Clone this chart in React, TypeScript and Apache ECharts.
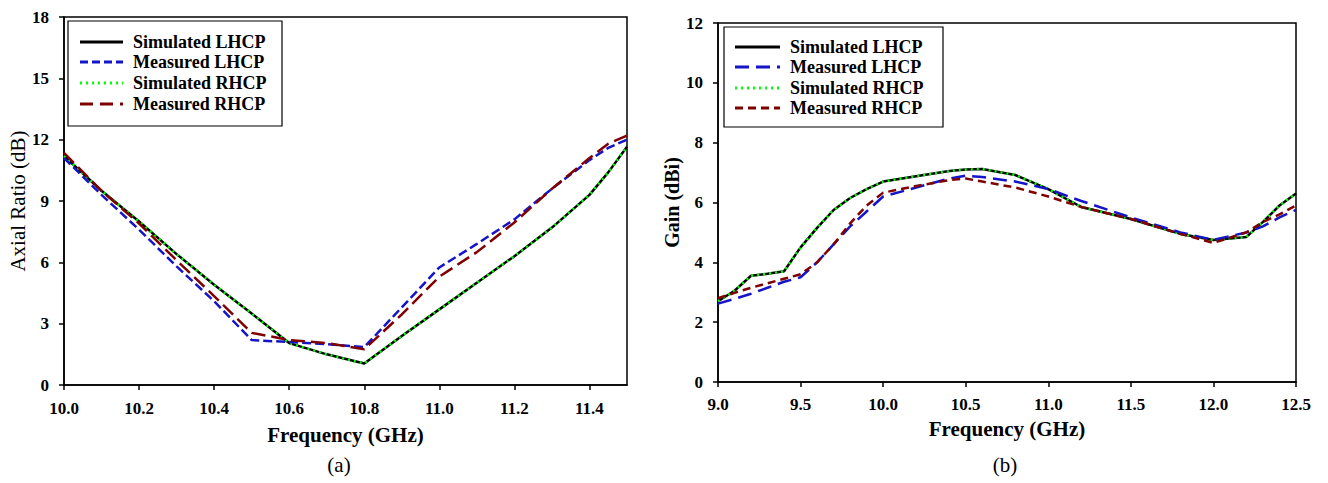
import React, { useEffect, useRef } from "react";
import * as echarts from "echarts";

// ---- (a) Axial ratio ----
const freqA = [10.0, 10.1, 10.2, 10.3, 10.4, 10.5, 10.6, 10.7, 10.8, 10.9, 11.0, 11.1, 11.2, 11.3, 11.4, 11.45, 11.5];
const simLhcpA = [11.2, 9.5, 8.0, 6.4, 4.9, 3.5, 2.05, 1.5, 1.05, 2.4, 3.7, 5.0, 6.3, 7.7, 9.3, 10.4, 11.65];
const simRhcpA = [11.2, 9.5, 8.0, 6.4, 4.9, 3.5, 2.05, 1.5, 1.05, 2.4, 3.7, 5.0, 6.3, 7.7, 9.3, 10.4, 11.65];
const measLhcpA = [11.1, 9.3, 7.6, 5.8, 4.1, 2.2, 2.1, 2.0, 1.85, 3.8, 5.75, 6.9, 8.1, 9.6, 11.0, 11.6, 12.0];
const measRhcpA = [11.35, 9.5, 7.9, 6.1, 4.35, 2.55, 2.2, 2.05, 1.75, 3.45, 5.3, 6.5, 7.95, 9.6, 11.1, 11.8, 12.2];

// ---- (b) Gain ----
const freqB = [9.0, 9.1, 9.2, 9.3, 9.4, 9.5, 9.6, 9.7, 9.8, 9.9, 10.0, 10.2, 10.4, 10.5, 10.6, 10.8, 11.0, 11.2, 11.5, 11.8, 12.0, 12.2, 12.3, 12.4, 12.5];
const simLhcpB = [2.7, 3.05, 3.55, 3.62, 3.7, 4.5, 5.15, 5.75, 6.15, 6.45, 6.7, 6.88, 7.05, 7.1, 7.12, 6.92, 6.45, 5.85, 5.45, 4.95, 4.75, 4.85, 5.35, 5.9, 6.3];
const simRhcpB = [2.7, 3.05, 3.55, 3.62, 3.7, 4.5, 5.15, 5.75, 6.15, 6.45, 6.7, 6.88, 7.05, 7.1, 7.12, 6.92, 6.45, 5.85, 5.45, 4.95, 4.75, 4.85, 5.35, 5.9, 6.3];
const measLhcpB = [2.62, 2.78, 2.95, 3.15, 3.35, 3.5, 4.0, 4.6, 5.2, 5.7, 6.2, 6.5, 6.8, 6.9, 6.85, 6.7, 6.45, 6.05, 5.5, 5.0, 4.75, 5.0, 5.2, 5.5, 5.75];
const measRhcpB = [2.8, 2.98, 3.15, 3.3, 3.45, 3.6, 4.0, 4.6, 5.3, 5.9, 6.33, 6.55, 6.75, 6.8, 6.7, 6.5, 6.2, 5.85, 5.45, 4.95, 4.65, 5.0, 5.35, 5.6, 5.9];

const legendNames = ["Simulated LHCP", "Measured LHCP", "Simulated RHCP", "Measured RHCP"];
const xTicksA = { min: 10.0, max: 11.5, interval: 0.2 };
const yTicksA = { min: 0, max: 18, interval: 3 };
const xTicksB = { min: 9.0, max: 12.5, interval: 0.5 };
const yTicksB = { min: 0, max: 12, interval: 2 };

const FONT = "'Liberation Serif', 'Times New Roman', serif";
const BLACK = "#000000";
const BLUE = "#1414c8";
const GREEN = "#00ff00";
const RED = "#800000";

const pairs = (xs: number[], ys: number[]) => xs.map((x, i) => [x, ys[i]]);

export default function App() {
  const ref = useRef<HTMLDivElement>(null);
  useEffect(() => {
    document.body.style.margin = "0";
    if (!ref.current) return;
    const chart = echarts.init(ref.current, undefined, { renderer: "svg" });

    const axisCommon = {
      axisLine: { show: true, lineStyle: { color: BLACK, width: 1.5 } },
      axisTick: { show: true, inside: false, length: 5, lineStyle: { color: BLACK, width: 1.5 } },
      splitLine: { show: false },
      nameTextStyle: { fontFamily: FONT, fontWeight: "bold", fontSize: 21, color: BLACK },
    };
    const labelStyle = { fontFamily: FONT, fontWeight: "bold", fontSize: 17, color: BLACK };

    const lineSeries = (name: string, xi: number, data: number[][], color: string, dash: any, z: number) => ({
      type: "line",
      name,
      xAxisIndex: xi,
      yAxisIndex: xi,
      data,
      symbol: "none",
      z,
      lineStyle: { color, width: 2.5, type: dash },
    });

    const legendGraphic = (bx: number, by: number, bw: number, bh: number, ys: number[], lx1: number, lx2: number, tx: number, styles: { color: string; dash: any }[]) => {
      const els: any[] = [
        { type: "rect", shape: { x: bx, y: by, width: bw, height: bh }, style: { fill: "#fff", stroke: BLACK, lineWidth: 1.2 }, z: 10 },
      ];
      ys.forEach((y, i) => {
        els.push({
          type: "line",
          shape: { x1: lx1, y1: y, x2: lx2, y2: y },
          style: { stroke: styles[i].color, lineWidth: 2.8, lineDash: styles[i].dash },
          z: 11,
        });
        els.push({
          type: "text",
          x: tx,
          y,
          style: { text: legendNames[i], fontFamily: FONT, fontWeight: "bold", fontSize: 18, fill: BLACK, verticalAlign: "middle", align: "left" },
          z: 11,
        });
      });
      return els;
    };

    chart.setOption({
      animation: false,
      grid: [
        { left: 64, top: 17, width: 563, height: 368, show: true, borderColor: BLACK, borderWidth: 1.5, backgroundColor: "transparent" },
        { left: 718, top: 23, width: 578, height: 359, show: true, borderColor: BLACK, borderWidth: 1.5, backgroundColor: "transparent" },
      ],
      xAxis: [
        {
          ...axisCommon,
          type: "value",
          gridIndex: 0,
          ...xTicksA,
          name: "Frequency (GHz)",
          nameLocation: "middle",
          nameGap: 39,
          axisLabel: { ...labelStyle, margin: 15, showMaxLabel: false, formatter: (v: number) => v.toFixed(1) },
        },
        {
          ...axisCommon,
          type: "value",
          gridIndex: 1,
          ...xTicksB,
          name: "Frequency (GHz)",
          nameLocation: "middle",
          nameGap: 36,
          axisLabel: { ...labelStyle, margin: 14, formatter: (v: number) => v.toFixed(1) },
        },
      ],
      yAxis: [
        {
          ...axisCommon,
          type: "value",
          gridIndex: 0,
          ...yTicksA,
          name: "Axial Ratio (dB)",
          nameLocation: "middle",
          nameGap: 34,
          nameTextStyle: { fontFamily: FONT, fontWeight: "normal", fontSize: 21, color: BLACK },
          axisLabel: { ...labelStyle, margin: 15 },
        },
        {
          ...axisCommon,
          type: "value",
          gridIndex: 1,
          ...yTicksB,
          name: "Gain (dBi)",
          nameLocation: "middle",
          nameGap: 35,
          nameTextStyle: { fontFamily: FONT, fontWeight: "bold", fontSize: 20, color: BLACK },
          axisLabel: { ...labelStyle, margin: 15 },
        },
      ],
      series: [
        lineSeries("Simulated LHCP", 0, pairs(freqA, simLhcpA), BLACK, "solid", 2),
        lineSeries("Simulated RHCP", 0, pairs(freqA, simRhcpA), GREEN, [2, 4], 3),
        lineSeries("Measured LHCP", 0, pairs(freqA, measLhcpA), BLUE, [9, 4], 4),
        lineSeries("Measured RHCP", 0, pairs(freqA, measRhcpA), RED, [14, 6], 5),
        lineSeries("Simulated LHCP", 1, pairs(freqB, simLhcpB), BLACK, "solid", 2),
        lineSeries("Simulated RHCP", 1, pairs(freqB, simRhcpB), GREEN, [2, 4], 3),
        lineSeries("Measured LHCP", 1, pairs(freqB, measLhcpB), BLUE, [14, 7], 4),
        lineSeries("Measured RHCP", 1, pairs(freqB, measRhcpB), RED, [8, 5], 5),
      ],
      graphic: [
        ...legendGraphic(68, 21, 214, 105, [42, 62, 83, 104], 80, 123, 133, [
          { color: BLACK, dash: null },
          { color: BLUE, dash: [8, 4] },
          { color: GREEN, dash: [2, 4] },
          { color: RED, dash: [13, 7] },
        ]),
        ...legendGraphic(724, 27, 219, 100, [47, 67, 88, 108], 735, 780, 790, [
          { color: BLACK, dash: null },
          { color: BLUE, dash: [14, 7] },
          { color: GREEN, dash: [2, 4] },
          { color: RED, dash: [8, 5] },
        ]),
        {
          type: "text",
          x: 339,
          y: 465,
          style: { text: "(a)", fontFamily: FONT, fontSize: 21, fill: BLACK, align: "center", verticalAlign: "middle" },
        },
        {
          type: "text",
          x: 1005,
          y: 465,
          style: { text: "(b)", fontFamily: FONT, fontSize: 21, fill: BLACK, align: "center", verticalAlign: "middle" },
        },
      ],
    });
    return () => chart.dispose();
  }, []);
  return <div ref={ref} style={{ width: 1328, height: 483, background: "#fff" }} />;
}
